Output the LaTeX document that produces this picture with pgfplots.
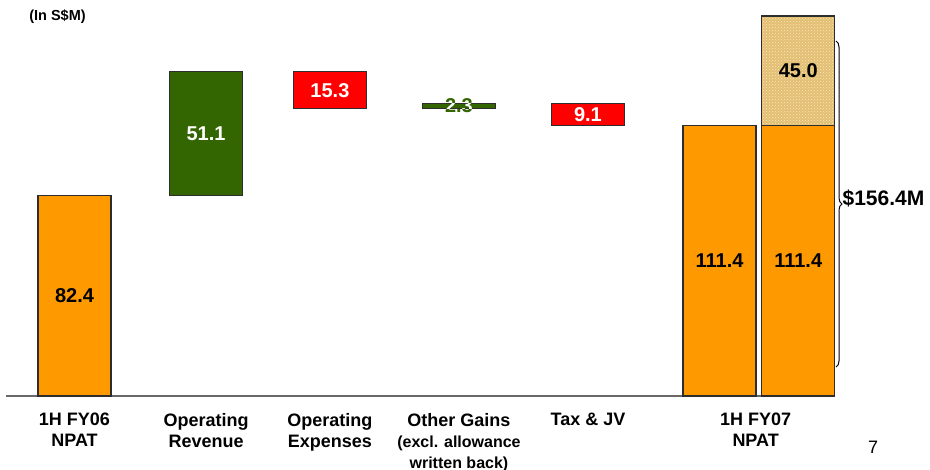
\documentclass[border=0pt]{standalone}
\usepackage{fontspec}
\setmainfont{Liberation Sans}
\usepackage{pgfplots}
\pgfplotsset{compat=1.18}
\usetikzlibrary{patterns,decorations.pathreplacing}
\definecolor{cOrange}{RGB}{255,153,0}
\definecolor{cGreen}{RGB}{51,102,0}
\definecolor{cRed}{RGB}{255,0,0}
\definecolor{cTan}{RGB}{226,190,118}
\definecolor{cDot}{RGB}{252,236,170}
\definecolor{cEdge}{RGB}{45,45,45}
\definecolor{cAxis}{RGB}{105,105,105}
\newcommand{\vfont}{\fontsize{20}{24}\selectfont\bfseries}

\begin{document}
\begin{tikzpicture}
\useasboundingbox (-6pt,-74pt) rectangle (924pt,396pt);
\begin{axis}[
  at={(0pt,0pt)}, anchor=south west,
  scale only axis, width=829pt, height=388.8pt,
  xmin=-0.531, xmax=5.895, ymin=0, ymax=160,
  ybar stacked, bar width=73pt,
  axis x line=bottom, axis y line=none,
  x axis line style={-, draw=cAxis, line width=1.6pt},
  xtick={0,1.02,1.98,2.98,3.98,5.28},
  xticklabels={{1H FY06\\NPAT},{Operating\\Revenue},{Operating\\Expenses},
    {Other Gains\\{\fontsize{16}{18}\selectfont (excl. allowance}\\{\fontsize{16}{18}\selectfont written back)}},
    {Tax \& JV},{1H FY07\\NPAT}},
  major tick length=0pt,
  ytick=\empty,
  xticklabel style={align=center, anchor=north, inner sep=0pt, yshift=-17pt,
    font=\fontsize{18}{21}\selectfont\bfseries},
  clip=false,
]
% invisible base of the floating bars
\addplot[draw=none, fill=none] coordinates {(0,0) (1.02,82.4) (1.98,118.2) (2.98,118.2) (3.98,111.4) (5,0) (5.61,0)};
% NPAT (orange)
\addplot[fill=cOrange, draw=cEdge, line width=1.3pt] coordinates {(0,82.4) (1.02,0) (1.98,0) (2.98,0) (3.98,0) (5,111.4) (5.61,111.4)};
% increases (green)
\addplot[fill=cGreen, draw=cEdge, line width=1.3pt] coordinates {(0,0) (1.02,51.1) (1.98,0) (2.98,2.3) (3.98,0) (5,0) (5.61,0)};
% decreases (red)
\addplot[fill=cRed, draw=cEdge, line width=1.3pt] coordinates {(0,0) (1.02,0) (1.98,15.3) (2.98,0) (3.98,9.1) (5,0) (5.61,0)};
% allowance written back (patterned)
\addplot[fill=cTan, draw=cEdge, line width=1.3pt, postaction={pattern=crosshatch dots, pattern color=cDot}] coordinates {(0,0) (1.02,0) (1.98,0) (2.98,0) (3.98,0) (5,0) (5.61,45.0)};

\coordinate (v1) at (axis cs:0,41.2);
\coordinate (v2) at (axis cs:1.02,107.95);
\coordinate (v3) at (axis cs:1.98,125.85);
\coordinate (v4) at (axis cs:2.98,119.35);
\coordinate (v5) at (axis cs:3.98,115.95);
\coordinate (v6) at (axis cs:5,55.7);
\coordinate (v7) at (axis cs:5.61,55.7);
\coordinate (v8) at (axis cs:5.61,133.9);
\coordinate (g1) at (axis cs:2.697,118.2);
\coordinate (g2) at (axis cs:3.263,120.5);
\end{axis}
\node[black, font=\vfont] at (v1) {82.4};
\node[white, font=\vfont] at (v2) {51.1};
\node[white, font=\vfont] at (v3) {15.3};
\node[cGreen, font=\vfont] at (v4) {2.3};
\begin{scope}
\clip (g1) rectangle (g2);
\node[white, font=\vfont] at (v4) {2.3};
\end{scope}
\node[white, font=\vfont] at (v5) {9.1};
\node[black, font=\vfont] at (v6) {111.4};
\node[black, font=\vfont] at (v7) {111.4};
\node[black, font=\vfont] at (v8) {45.0};
\node[font=\fontsize{14.5}{17}\selectfont\bfseries] at (51.5pt,379pt) {(In S\$M)};
\node[font=\fontsize{18}{21}\selectfont] at (867pt,-51pt) {7};
\node[font=\fontsize{21}{25}\selectfont\bfseries] at (877.5pt,198pt) {\$156.4M};
\draw[line width=1pt, black, decorate, decoration={brace, amplitude=6pt}] (830pt,355pt) -- (830pt,29pt);
\end{tikzpicture}
\end{document}
